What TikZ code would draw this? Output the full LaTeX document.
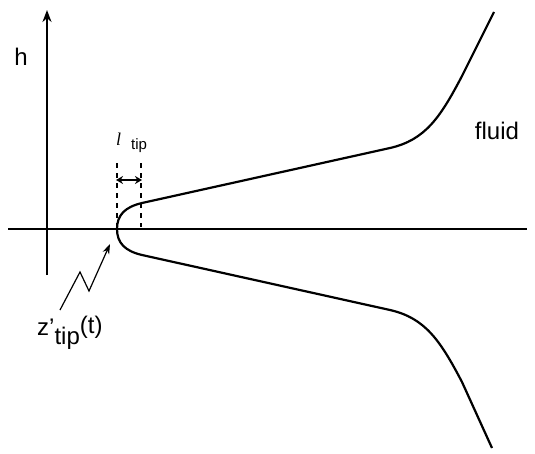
\documentclass[tikz,border=0pt]{standalone}
\usepackage{fontspec}
\setmainfont{Liberation Sans}
\newfontfamily\ital{Liberation Serif}
\usetikzlibrary{arrows.meta}
\begin{document}
\begin{tikzpicture}[x=1pt,y=-1pt,
  axis/.style={line width=2.2pt},
  curve/.style={line width=2.2pt},
  dashln/.style={line width=1.6pt, dash pattern=on 5pt off 5pt},
  lbl/.style={inner sep=0pt, font=\fontsize{24}{26}\selectfont}]
\useasboundingbox (0,0) rectangle (535,453);
% axes
\coordinate (hl) at (8,229);
\coordinate (hr) at (527,229);
\coordinate (vb) at (47,275);
\coordinate (vt) at (47,10);
\draw[axis] (hl) -- (hr);
\draw[axis,-{Stealth[length=12pt,width=9pt]}] (vb) -- (vt);
\node[lbl,anchor=base] (h) at (21,65) {h};
% interface
\coordinate (tip) at (117,229);
\draw[curve] (494,12) -- (462,76) .. controls (440,118) and (425,140) .. (390,148)
  -- (142,203) .. controls (125,207) and (117,215) .. (tip)
  .. controls (117,243) and (125,251) .. (142,255)
  -- (390,310) .. controls (425,318) and (440,340) .. (462,382) -- (492,448);
\node[lbl] (fluid) at (497,131) {fluid};
% l_tip
\coordinate (d1t) at (117,163);
\coordinate (d1b) at (117,229);
\coordinate (d2t) at (141,163);
\coordinate (d2b) at (141,227);
\draw[dashln] (d1t) -- (d1b);
\draw[dashln] (d2t) -- (d2b);
\coordinate (a1) at (116,180);
\coordinate (a2) at (142,180);
\draw[line width=2pt,{Stealth[length=7pt,width=8pt]}-{Stealth[length=7pt,width=8pt]}] (a1) -- (a2);
\node[inner sep=0pt,anchor=base west] (ltip) at (116,145) {\fontsize{18}{19}\selectfont\ital\itshape l};
\node[inner sep=0pt,anchor=base west] (ltipsub) at (131,149) {\fontsize{15}{16}\selectfont tip};
% z'_tip(t)
\coordinate (zs) at (60,310);
\coordinate (zp) at (80,272);
\coordinate (zv) at (89,291);
\coordinate (ze) at (110,244);
\draw[line width=1.2pt,-{Stealth[length=10pt,width=7pt]}] (zs) -- (zp) -- (zv) -- (ze);
\node[lbl,anchor=base west] (zlab) at (37,335) {z'\raisebox{-9pt}{tip}\raisebox{2pt}{(t)}};
\end{tikzpicture}
\end{document}
